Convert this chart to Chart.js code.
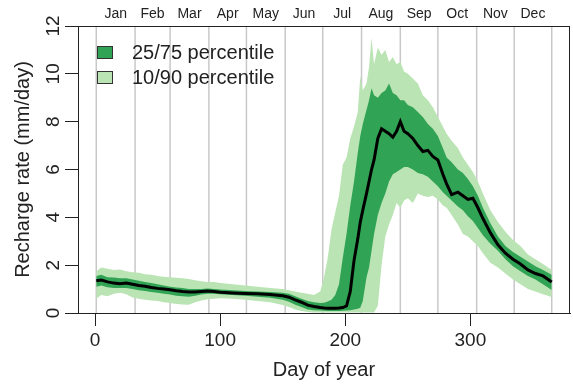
<!DOCTYPE html>
<html>
<head>
<meta charset="utf-8">
<script src="https://cdn.jsdelivr.net/npm/chart.js@4.4.1/dist/chart.umd.min.js"></script>
<style>
  html, body { margin: 0; padding: 0; background: #fff; }
  #wrap { width: 573px; height: 386px; }
</style>
</head>
<body>
<div id="wrap"><canvas id="chart" width="573" height="386"></canvas></div>
<script>
// Daily recharge rate percentiles (mm/day)
const days = [1, 5, 10, 15, 20, 25, 30, 35, 40, 45, 50, 55, 60, 65, 70, 75, 80, 85, 90, 95,
  100, 110, 120, 130, 140, 150, 155, 160, 165, 170, 175, 180, 183, 186, 189, 192, 195, 198,
  201, 204, 207, 210, 212, 214, 217, 219, 221, 223, 226, 229, 232, 235, 238, 241, 244, 247,
  250, 254, 258, 262, 266, 270, 274, 278, 281, 285, 290, 294, 298, 302, 306, 310, 316, 322,
  328, 334, 340, 346, 352, 358, 365];

const p90 = [1.75, 1.9, 1.85, 1.8, 1.82, 1.75, 1.7, 1.68, 1.62, 1.6, 1.55, 1.52, 1.5, 1.47, 1.45, 1.42, 1.37, 1.33, 1.3, 1.3,
  1.25, 1.2, 1.15, 1.1, 1.05, 1.0, 0.95, 0.9, 0.85, 0.8, 0.75, 0.9, 1.5, 2.3, 3.5, 4.2, 4.9, 6.2,
  6.5, 7.3, 7.8, 8.4, 9.9, 9.3, 9.6, 10.3, 11.5, 10.4, 11.1, 10.8, 11.0, 10.5, 10.7, 10.4, 10.5, 10.1,
  10.0, 9.8, 9.6, 9.1, 8.9, 8.6, 8.2, 7.8, 7.5, 7.2, 6.9, 6.5, 6.2, 5.9, 5.5, 5.0, 4.3, 3.8,
  3.4, 3.05, 2.8, 2.45, 2.25, 2.05, 1.8];

const p75 = [1.55, 1.6, 1.5, 1.48, 1.45, 1.45, 1.4, 1.35, 1.3, 1.25, 1.2, 1.15, 1.1, 1.07, 1.05, 1.0, 1.0, 1.0, 1.02, 1.0,
  0.98, 0.95, 0.92, 0.9, 0.88, 0.85, 0.8, 0.7, 0.6, 0.5, 0.45, 0.42, 0.43, 0.48, 0.55, 0.75, 1.2, 2.3,
  3.3, 4.5, 5.5, 6.7, 7.4, 7.9, 8.5, 8.9, 9.4, 9.1, 9.0, 9.2, 9.3, 9.6, 9.2, 9.1, 8.9, 8.9,
  8.7, 8.6, 8.4, 8.2, 7.9, 7.7, 7.4, 6.9, 6.5, 6.3, 6.0, 5.85, 5.6, 5.3, 4.9, 4.4, 3.75, 3.2,
  2.8, 2.55, 2.35, 2.15, 1.95, 1.8, 1.6];

const median = [1.35, 1.38, 1.3, 1.25, 1.22, 1.25, 1.2, 1.15, 1.12, 1.07, 1.03, 1.0, 0.97, 0.93, 0.9, 0.88, 0.88, 0.9, 0.92, 0.9,
  0.87, 0.84, 0.82, 0.8, 0.77, 0.72, 0.66, 0.55, 0.45, 0.33, 0.27, 0.23, 0.21, 0.2, 0.2, 0.2, 0.21, 0.23,
  0.3, 0.9, 2.2, 3.1, 3.8, 4.3, 5.0, 5.5, 6.0, 6.4, 7.3, 7.7, 7.6, 7.5, 7.35, 7.6, 8.0, 7.6,
  7.5, 7.3, 7.0, 6.75, 6.8, 6.55, 6.4, 5.8, 5.4, 4.95, 5.05, 4.9, 4.75, 4.8, 4.4, 3.95, 3.35, 2.85,
  2.5, 2.25, 2.05, 1.8, 1.65, 1.55, 1.3];

const p25 = [1.1, 1.15, 1.08, 1.05, 1.05, 1.05, 1.0, 0.95, 0.92, 0.88, 0.85, 0.8, 0.77, 0.72, 0.7, 0.68, 0.72, 0.77, 0.8, 0.8,
  0.78, 0.75, 0.72, 0.68, 0.64, 0.55, 0.47, 0.35, 0.25, 0.15, 0.12, 0.1, 0.09, 0.08, 0.08, 0.08, 0.08, 0.09,
  0.1, 0.12, 0.15, 0.18, 0.22, 0.5, 1.5, 1.9, 2.6, 3.3, 4.1, 4.6, 5.0, 5.5, 5.8, 5.9, 6.0, 6.1,
  6.1, 6.0, 5.85, 5.8, 5.7, 5.5, 5.3, 5.05, 4.9, 4.7, 4.45, 4.3, 4.05, 3.85, 3.55, 3.25, 2.9, 2.6,
  2.25, 1.95, 1.75, 1.55, 1.4, 1.2, 0.96];

const p10 = [0.6, 0.75, 0.7, 0.8, 0.85, 0.78, 0.65, 0.6, 0.55, 0.52, 0.5, 0.45, 0.42, 0.38, 0.36, 0.35, 0.45, 0.52, 0.58, 0.6,
  0.62, 0.6, 0.55, 0.5, 0.45, 0.33, 0.25, 0.15, 0.08, 0.04, 0.02, 0.02, 0.02, 0.02, 0.02, 0.02, 0.02, 0.02,
  0.02, 0.02, 0.02, 0.02, 0.02, 0.02, 0.02, 0.02, 0.02, 0.02, 0.3, 2.0, 3.2, 3.7, 4.1, 4.6, 4.4, 4.7,
  4.8, 4.6, 5.0, 4.9, 4.85, 4.9, 4.75, 4.5, 4.4, 4.1, 3.7, 3.3, 3.2, 3.0, 2.8, 2.5, 2.1, 1.9,
  1.65, 1.4, 1.2, 1.0, 0.9, 0.78, 0.67];

const monthNames = ['Jan', 'Feb', 'Mar', 'Apr', 'May', 'Jun', 'Jul', 'Aug', 'Sep', 'Oct', 'Nov', 'Dec'];
const monthStarts = [1, 32, 60, 91, 121, 152, 182, 213, 244, 274, 305, 335, 365];
const xTicks = [0, 100, 200, 300];
const yTicks = [0, 2, 4, 6, 8, 10, 12];

const DARK = '#31a354';
const LIGHT = '#bae4b3';
const FONT = '"Liberation Sans", Arial, Helvetica, sans-serif';
const INK = '#222';

function series(values) {
    return days.map((d, i) => ({ x: d, y: values[i] }));
}

const monthMids = monthNames.map((m, i) => (monthStarts[i] + monthStarts[i + 1]) / 2);

// month lines behind the bands, box, rotated y labels and the legend on top
const decorations = {
    id: 'decorations',
    beforeDatasetsDraw(chart) {
        const { ctx, chartArea } = chart;
        const x = chart.scales.x;
        ctx.save();
        ctx.strokeStyle = '#c8c8c8';
        ctx.lineWidth = 1.5;
        monthStarts.forEach(d => {
            const px = x.getPixelForValue(d);
            ctx.beginPath();
            ctx.moveTo(px, chartArea.top);
            ctx.lineTo(px, chartArea.bottom);
            ctx.stroke();
        });
        ctx.restore();
    },
    afterDraw(chart) {
        const { ctx, chartArea } = chart;
        ctx.save();
        ctx.strokeStyle = INK;
        ctx.lineWidth = 1;
        ctx.strokeRect(chartArea.left + 0.5, chartArea.top + 0.5,
            chartArea.right - chartArea.left - 1, chartArea.bottom - chartArea.top);

        // y tick labels, rotated like the original
        ctx.fillStyle = INK;
        ctx.font = '19px ' + FONT;
        ctx.textAlign = 'center';
        ctx.textBaseline = 'middle';
        yTicks.forEach(v => {
            const py = chart.scales.y.getPixelForValue(v);
            ctx.save();
            ctx.translate(54, py);
            ctx.rotate(-Math.PI / 2);
            ctx.fillText(String(v), 0, 0);
            ctx.restore();
        });

        // legend
        const items = [['25/75 percentile', DARK], ['10/90 percentile', LIGHT]];
        ctx.font = '20px ' + FONT;
        ctx.textAlign = 'left';
        items.forEach((it, i) => {
            const top = 46 + i * 25;
            ctx.fillStyle = it[1];
            ctx.fillRect(97, top, 16, 12);
            ctx.strokeStyle = '#333';
            ctx.strokeRect(97.5, top + 0.5, 15, 12);
            ctx.fillStyle = INK;
            ctx.fillText(it[0], 132, top + 7);
        });
        ctx.restore();
    }
};

new Chart(document.getElementById('chart'), {
    type: 'line',
    data: {
        datasets: [
            {
                label: '10/90 percentile', data: series(p90), fill: '+1',
                backgroundColor: LIGHT, borderColor: 'rgba(0,0,0,0)', borderWidth: 0, order: 3
            },
            {
                label: 'p10', data: series(p10), fill: false,
                borderColor: 'rgba(0,0,0,0)', borderWidth: 0, order: 3
            },
            {
                label: '25/75 percentile', data: series(p75), fill: '+1',
                backgroundColor: DARK, borderColor: 'rgba(0,0,0,0)', borderWidth: 0, order: 2
            },
            {
                label: 'p25', data: series(p25), fill: false,
                borderColor: 'rgba(0,0,0,0)', borderWidth: 0, order: 2
            },
            {
                label: 'Median', data: series(median), fill: false,
                borderColor: '#000', borderWidth: 3, order: 1
            }
        ]
    },
    options: {
        responsive: false,
        animation: false,
        devicePixelRatio: 1,
        layout: { padding: { right: 3, left: 0, top: 0, bottom: 0 } },
        elements: { point: { radius: 0 }, line: { tension: 0 } },
        plugins: { legend: { display: false }, tooltip: { enabled: false } },
        scales: {
            x: {
                type: 'linear', position: 'bottom', min: -13.6, max: 379.6,
                afterBuildTicks: s => { s.ticks = xTicks.map(v => ({ value: v })); },
                afterFit: s => { s.height = 73; },
                ticks: { font: { size: 19, family: FONT }, color: INK, padding: 3, maxRotation: 0, autoSkip: false },
                grid: { drawOnChartArea: false, drawTicks: true, tickLength: 13, color: INK },
                border: { display: true, color: INK },
                title: { display: true, text: 'Day of year', font: { size: 20, family: FONT }, color: INK, padding: { bottom: 4 } }
            },
            xTop: {
                type: 'linear', position: 'top', min: -13.6, max: 379.6,
                afterBuildTicks: s => { s.ticks = monthMids.map(v => ({ value: v })); },
                afterFit: s => { s.height = 26; },
                ticks: {
                    font: { size: 14, family: FONT }, color: INK, padding: 3, maxRotation: 0, autoSkip: false,
                    callback: (v, i) => monthNames[i]
                },
                grid: { display: false, drawTicks: false },
                border: { display: false }
            },
            y: {
                min: 0, max: 12,
                afterBuildTicks: s => { s.ticks = yTicks.map(v => ({ value: v })); },
                afterFit: s => { s.width = 78; },
                ticks: { display: false },
                grid: { drawOnChartArea: false, drawTicks: true, tickLength: 13, color: INK },
                border: { display: true, color: INK },
                title: { display: true, text: 'Recharge rate (mm/day)', font: { size: 20, family: FONT }, color: INK, padding: { top: 11 } }
            }
        }
    },
    plugins: [decorations]
});
</script>
</body>
</html>
